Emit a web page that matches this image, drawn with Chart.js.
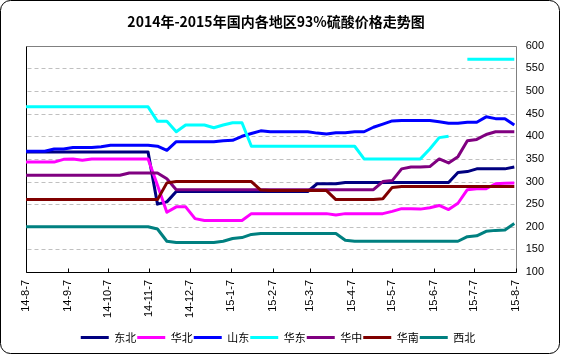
<!DOCTYPE html>
<html><head><meta charset="utf-8">
<script src="https://cdn.jsdelivr.net/npm/chart.js@4.4.0/dist/chart.umd.min.js"></script>
<style>html,body{margin:0;padding:0;background:#fff;}#wrap{width:561px;height:355px;}</style>
</head><body><div id="wrap"><canvas id="c" width="561" height="355"></canvas></div>
<script>
// x positions: days after 2014-08-07 (weekly observations)
const dayOffsets = [0,7,14,21,28,35,42,49,56,63,70,77,84,91,98,105,112,119,126,133,140,147,154,161,168,175,182,189,196,203,210,217,224,231,238,245,252,259,266,273,280,287,294,301,308,315,322,329,336,343,350,357,364];
const tickDays = [0,31,61,92,122,153,184,212,243,273,304,334,365];
const tickLabels = ['14-8-7','14-9-7','14-10-7','14-11-7','14-12-7','15-1-7','15-2-7','15-3-7','15-4-7','15-5-7','15-6-7','15-7-7','15-8-7'];
const yTicks = [100,150,200,250,300,350,400,450,500,550,600];
const seriesNames = ['东北','华北','山东','华东','华中','华南','西北'];
const seriesColors = ['#000080','#FF00FF','#0000FF','#00FFFF','#800080','#800000','#008080'];

const dongbei = [365,365,365,365,365,365,365,365,365,365,365,365,365,365,250,255,278,278,278,278,278,278,278,278,278,278,278,278,278,278,278,295,295,295,298,298,298,298,298,298,298,298,298,298,298,298,320,322,328,328,328,328,332];
const huabei = [343,343,343,343,349,350,347,350,350,350,350,350,350,350,292,232,244,244,218,214,214,214,214,214,229,229,229,229,229,229,229,229,229,226,229,229,229,229,229,234,240,240,239,242,247,238,252,282,284,284,295,296,297];
const shandong = [367,367,367,372,372,375,375,375,377,380,380,380,380,380,378,369,388,388,388,388,388,390,391,400,406,412,410,410,410,410,410,407,405,408,408,410,410,420,427,434,435,435,435,435,432,429,429,431,431,443,439,439,425];
const huadong = [465,465,465,465,465,465,465,465,465,465,465,465,465,465,433,433,410,425,425,425,419,425,430,430,378,378,378,378,378,378,378,378,378,378,378,378,350,350,350,350,350,350,350,372,397,400,null,570,570,570,570,570,570];
const huazhong = [314,314,314,314,314,314,314,314,314,314,314,319,319,319,319,306,282,282,282,282,282,282,282,282,282,282,282,282,282,282,282,282,282,282,282,282,282,282,300,302,328,332,332,333,350,341,355,390,393,404,410,410,410];
const huanan = [260,260,260,260,260,260,260,260,260,260,260,260,260,260,260,297,300,300,300,300,300,300,300,300,300,281,280,280,280,280,280,280,280,260,260,260,260,260,262,287,289,289,289,289,289,289,289,289,289,289,289,289,289];
const xibei = [200,200,200,200,200,200,200,200,200,200,200,200,200,200,195,168,165,165,165,165,165,168,174,176,183,185,185,185,185,185,185,185,185,185,170,168,168,168,168,168,168,168,168,168,168,168,168,178,180,190,192,193,207];

const seriesValues = [dongbei, huabei, shandong, huadong, huazhong, huanan, xibei];

const framePlugin = {
  id: 'frame',
  afterLayout(chart) {
    // centre title and legend like the original (slightly left of canvas centre)
    if (chart.titleBlock) { chart.titleBlock.left -= 14; chart.titleBlock.right -= 14; }
    if (chart.legend) { chart.legend.left -= 12; chart.legend.right -= 12; }
  },
  beforeDraw(chart) {
    const ctx = chart.ctx;
    ctx.save();
    ctx.fillStyle = '#fff';
    ctx.fillRect(0, 0, chart.width, chart.height);
    ctx.strokeStyle = '#000';
    ctx.lineWidth = 1;
    ctx.beginPath();
    if (ctx.roundRect) ctx.roundRect(0.5, 0.5, chart.width - 2, chart.height - 2, 10);
    else ctx.rect(0.5, 0.5, chart.width - 2, chart.height - 2);
    ctx.stroke();
    ctx.restore();
  },
  beforeDatasetsDraw(chart) {
    const ctx = chart.ctx, a = chart.chartArea;
    const L = Math.round(a.left) + 0.5, R = Math.round(a.right) + 0.5;
    const T = Math.round(a.top) + 0.5, B = Math.round(a.bottom) + 0.5;
    const ys = chart.scales.y, xs = chart.scales.x;
    ctx.save();
    ctx.lineWidth = 1;
    ctx.strokeStyle = '#C0C0C0';
    ctx.setLineDash([4, 3]);
    ctx.beginPath();
    yTicks.forEach(v => {
      if (v === 100 || v === 600) return;
      const py = Math.round(ys.getPixelForValue(v)) + 0.5;
      ctx.moveTo(L + 1, py); ctx.lineTo(R, py);
    });
    ctx.stroke();
    ctx.setLineDash([]);
    ctx.strokeStyle = '#808080';
    ctx.beginPath();
    ctx.moveTo(L, T); ctx.lineTo(R, T); ctx.lineTo(R, B);
    ctx.stroke();
    ctx.strokeStyle = '#000';
    ctx.beginPath();
    ctx.moveTo(L, T); ctx.lineTo(L, B); ctx.lineTo(R, B);
    tickDays.forEach(d => {
      const px = Math.round(xs.getPixelForValue(d)) + 0.5;
      ctx.moveTo(px, B); ctx.lineTo(px, B - 4);
    });
    ctx.stroke();
    ctx.restore();
  }
};

const datasets = seriesNames.map((name, i) => ({
  label: name,
  data: dayOffsets.map((d, k) => ({ x: d, y: seriesValues[i][k] })),
  borderColor: seriesColors[i],
  backgroundColor: seriesColors[i],
  borderWidth: 3,
  pointRadius: 0,
  pointHoverRadius: 0,
  tension: 0,
  spanGaps: false,
  borderJoinStyle: 'round',
  fill: false,
  order: seriesNames.length - i
}));

new Chart(document.getElementById('c'), {
  type: 'line',
  data: { datasets },
  plugins: [framePlugin],
  options: {
    responsive: false,
    animation: false,
    devicePixelRatio: 1,
    layout: { padding: { left: 26, right: 7, top: 0, bottom: 2 } },
    plugins: {
      title: {
        display: true,
        text: '2014年-2015年国内各地区93%硫酸价格走势图',
        color: '#000',
        font: { family: "'Noto Sans CJK SC', sans-serif", size: 14, weight: 'bold' },
        padding: { top: 13, bottom: 16 }
      },
      legend: {
        position: 'bottom',
        labels: {
          usePointStyle: true,
          pointStyle: 'line',
          pointStyleWidth: 28,
          padding: 1,
          color: '#000',
          font: { family: "'Noto Sans CJK SC', sans-serif", size: 11 },
          sort: (a, b) => a.datasetIndex - b.datasetIndex
        }
      },
      tooltip: { enabled: false }
    },
    scales: {
      x: {
        type: 'linear',
        min: 0,
        max: 365,
        afterBuildTicks: (s) => { s.ticks = tickDays.map(v => ({ value: v })); },
        afterFit: (s) => { s.height = 59; },
        grid: { display: false, drawTicks: false },
        border: { display: false },
        ticks: {
          autoSkip: false,
          maxRotation: 90,
          minRotation: 90,
          padding: 8,
          color: '#000',
          font: { family: "'Liberation Sans', Arial, sans-serif", size: 11 },
          callback: (v) => tickLabels[tickDays.indexOf(v)]
        }
      },
      y: {
        position: 'right',
        min: 100,
        max: 600,
        afterBuildTicks: (s) => { s.ticks = yTicks.map(v => ({ value: v })); },
        grid: { display: false, drawTicks: false },
        border: { display: false },
        ticks: {
          padding: 10,
          color: '#000',
          font: { family: "'Liberation Sans', Arial, sans-serif", size: 11 }
        }
      }
    }
  }
});
</script>
</body></html>
